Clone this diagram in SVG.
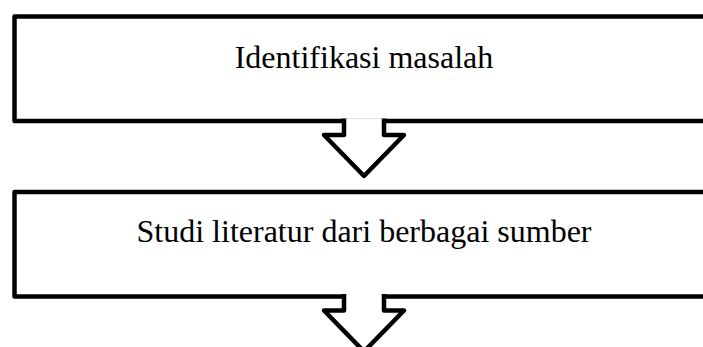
<svg xmlns="http://www.w3.org/2000/svg" width="703" height="347" viewBox="0 0 703 347">
<style>
.box{fill:#fff;stroke:#000;stroke-width:4.5;stroke-linejoin:round}
.arr{fill:#fff;stroke:#000;stroke-width:4.5;stroke-linejoin:round}
.lbl{font-family:"Liberation Serif","Times New Roman",serif;font-size:32px;fill:#000;text-anchor:middle}
</style>
<rect width="703" height="347" fill="#fff"/>
<g id="node1">
<rect class="box" x="14.5" y="16.5" width="720" height="104.5"/>
<text class="lbl" x="364" y="68">Identifikasi masalah</text>
</g>
<g id="node2">
<rect class="box" x="14.5" y="192" width="720" height="104.5"/>
<text class="lbl" x="364" y="241.5">Studi literatur dari berbagai sumber</text>
</g>
<g id="connectors">
<path class="arr" d="M344 118.5 V135 H324 L364 176 L404 135 H384 V118.5"/>
<path class="arr" d="M344 294 V310.5 H324 L364 351.5 L404 310.5 H384 V294"/>
</g>
</svg>
